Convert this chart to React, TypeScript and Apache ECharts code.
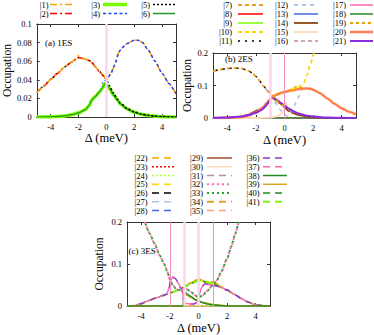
import React, { useEffect, useRef } from 'react';
import * as echarts from 'echarts';

type Pt = [number, number];

// ---------- shared axes ----------
const X_TICKS = [-4, -2, 0, 2, 4];
const Y_TICKS_A = [0, 0.02, 0.04, 0.06, 0.08, 0.1];
const Y_TICKS_BC = [0, 0.1, 0.2];
const X_TITLE = 'Δ (meV)';
const Y_TITLE = 'Occupation';
const PANEL_LABELS = ['(a) 1ES', '(b) 2ES', '(c) 3ES'];

// ---------- panel (a) 1ES ----------
const aS1: Pt[] = [[-5,0.026],[-4.5,0.033],[-4,0.0405],[-3.5,0.047],[-3,0.054],[-2.5,0.059],[-2.2,0.063],[-2,0.066],[-1.9,0.0645],[-1.5,0.062],[-1.2,0.0605],[-1,0.058],[-0.8,0.054],[-0.5,0.049],[-0.2,0.044],[0,0.04],[0.3,0.046],[0.6,0.056],[0.9,0.07],[1.1,0.074],[1.5,0.079],[2,0.0825],[2.3,0.0825],[2.6,0.08],[3,0.072],[3.5,0.06],[4,0.047],[4.5,0.036],[5,0.025]];
const aS2: Pt[] = [[-5,0.026],[-4.5,0.033],[-4,0.0405],[-3.5,0.047],[-3,0.054],[-2.5,0.059],[-2.2,0.062],[-2,0.064],[-1.8,0.0635],[-1.5,0.062],[-1.2,0.0605],[-1,0.058],[-0.8,0.054],[-0.5,0.049],[-0.2,0.044],[0,0.04]];
const aS3: Pt[] = [[-5,0],[-4,0.0002],[-3.5,0.0006],[-3,0.0012],[-2.5,0.0025],[-2,0.0045],[-1.5,0.008],[-1.2,0.013],[-1.1,0.017],[-1,0.019],[-0.8,0.022],[-0.5,0.027],[-0.3,0.031],[-0.1,0.036],[0,0.035],[0.2,0.031],[0.5,0.024],[0.8,0.018],[1,0.014],[1.5,0.0085],[2,0.005],[2.5,0.003],[3,0.0017],[3.5,0.0009],[4,0.0004],[5,0.0001]];
const aS4: Pt[] = [[-0.3,0.036],[0,0.04],[0.3,0.046],[0.6,0.056],[0.9,0.07],[1.1,0.074],[1.5,0.079],[2,0.0825],[2.3,0.0825],[2.6,0.08],[3,0.072],[3.5,0.06],[4,0.047],[4.5,0.036],[5,0.025]];
const aS5: Pt[] = [[-5,0.026],[-4.5,0.033],[-4,0.0405],[-3.5,0.047],[-3,0.054],[-2.5,0.059],[-2.2,0.062],[-2,0.064],[-1.8,0.0635],[-1.5,0.062],[-1.2,0.0605],[-1,0.058],[-0.8,0.054],[-0.5,0.049],[-0.2,0.044],[0,0.04],[0.2,0.034],[0.5,0.026],[0.8,0.019],[1,0.015],[1.5,0.009],[2,0.0055],[2.5,0.003],[3,0.0018],[3.5,0.001],[4,0.0005],[5,0.0001]];
const aS6: Pt[] = [[-5,0],[-4,0.0002],[-3.5,0.0006],[-3,0.0012],[-2.5,0.0025],[-2,0.0045],[-1.5,0.008],[-1.2,0.013],[-1.1,0.017],[-1,0.019],[-0.8,0.022],[-0.5,0.027],[-0.3,0.031],[-0.1,0.036],[0,0.035],[0.2,0.031],[0.5,0.024],[0.8,0.018],[1,0.014],[1.5,0.0085],[2,0.005],[2.5,0.003],[3,0.0017],[3.5,0.0009],[4,0.0004],[5,0.0001]];
const aVLines = [0];

// ---------- panel (b) 2ES ----------
const bZero: Pt[] = [[-5,0],[5,0]];
const bS7: Pt[] = [[-5,0.144],[-4.5,0.149],[-4,0.152],[-3.5,0.154],[-3,0.152],[-2.5,0.145],[-2.2,0.136],[-2,0.128],[-1.8,0.118],[-1.5,0.1],[-1.2,0.085],[-1,0.077],[-0.8,0.066],[-0.6,0.056],[-0.4,0.047],[-0.2,0.041],[0,0.036]];
const bS10: Pt[] = [[0.5,0.088],[0.8,0.094],[1.1,0.098],[1.35,0.108],[1.58,0.133],[1.8,0.165],[2.05,0.2]];
const bS11: Pt[] = [[-5,0.144],[-4.5,0.149],[-4,0.152],[-3.5,0.154],[-3,0.152],[-2.5,0.145],[-2.2,0.136],[-2,0.128],[-1.8,0.118],[-1.5,0.1],[-1.2,0.085],[-1,0.077],[-0.8,0.066]];
const bS12: Pt[] = [[-1.3,0.09],[-1.1,0.078],[-0.9,0.066],[-0.6,0.045],[-0.3,0.025],[0,0.011],[0.2,0.006],[0.4,0.015],[0.6,0.03],[0.8,0.048],[1,0.066],[1.2,0.085]];
const bS14: Pt[] = [[-5,0],[-4,0.001],[-3,0.004],[-2.5,0.01],[-2.2,0.017],[-2,0.022],[-1.8,0.025],[-1.6,0.027],[-1.4,0.033],[-1.2,0.043],[-1,0.055],[-0.85,0.062],[-0.7,0.058],[-0.5,0.05],[-0.3,0.045],[-0.1,0.038],[0,0.032],[0.3,0.022],[0.6,0.015],[1,0.009],[1.5,0.005],[2,0.002],[3,0.0005],[5,0]];
const bS15: Pt[] = [[-5,0],[-2,0],[-1,0.001],[-0.6,0.004],[-0.3,0.01],[-0.1,0.018],[0,0.026],[0.1,0.04],[0.15,0.05]];
const bS19: Pt[] = [[-0.5,0.07],[-0.2,0.078],[0,0.08],[0.3,0.085],[0.6,0.092],[0.9,0.097],[1.1,0.094],[1.3,0.091]];
const bS20: Pt[] = [[-5,0],[-4,0.0005],[-3,0.003],[-2.5,0.008],[-2,0.017],[-1.5,0.033],[-1.2,0.048],[-1,0.058],[-0.8,0.066],[-0.5,0.073],[-0.2,0.078],[0,0.08],[0.5,0.085],[1,0.089],[1.5,0.091],[1.8,0.09],[2,0.087],[2.5,0.076],[3,0.06],[3.5,0.044],[4,0.03],[4.5,0.019],[5,0.011]];
const bS21: Pt[] = [[-5,0.0005],[-4,0.0015],[-3,0.005],[-2.5,0.009],[-2,0.016],[-1.6,0.025],[-1.3,0.038],[-1.1,0.05],[-0.95,0.06],[-0.85,0.065],[-0.7,0.061],[-0.5,0.055],[-0.3,0.048],[0,0.038],[0.3,0.029],[0.6,0.021],[1,0.014],[1.5,0.008],[2,0.0045],[2.5,0.0025],[3,0.0013],[4,0.0004],[5,0.0001]];
const bVLines = [-1, 0];

// ---------- panel (c) 3ES ----------
const cZero: Pt[] = [[-5,0],[5,0]];
const cBroad: Pt[] = [[-5,0],[-4.5,0.001],[-4,0.006],[-3.5,0.013],[-3,0.019],[-2.5,0.025],[-2,0.031],[-1.5,0.037],[-1,0.045],[-0.5,0.054],[0,0.061],[0.5,0.058],[1,0.053],[1.5,0.046],[2,0.038],[2.5,0.028],[3,0.018],[3.5,0.009],[4,0.003],[4.5,0.001],[5,0.0002]];
const cBumpy: Pt[] = [[-1.2,0.042],[-1,0.046],[-0.5,0.056],[-0.2,0.061],[0,0.064],[0.2,0.062],[0.5,0.056],[0.8,0.055],[1,0.058],[1.2,0.055],[1.5,0.047],[1.7,0.044]];
const cPeaks: Pt[] = [[-5,0],[-4.5,0.001],[-4,0.006],[-3.5,0.013],[-3,0.019],[-2.5,0.025],[-2.2,0.029],[-2.05,0.045],[-1.95,0.062],[-1.8,0.069],[-1.6,0.065],[-1.4,0.054],[-1.2,0.041],[-1.1,0.03],[-1.04,0.012],[-1,0.007],[-0.6,0.005],[-0.3,0.005],[-0.1,0.009],[0,0.02],[0.1,0.034],[0.25,0.046],[0.45,0.053],[0.7,0.051],[1,0.049],[1.5,0.046],[2,0.038],[2.5,0.028],[3,0.018],[3.5,0.009],[4,0.003],[4.5,0.001],[5,0.0002]];
const cParab: Pt[] = [[-3.75,0.2],[-3.4,0.172],[-3.1,0.15],[-2.7,0.12],[-2.4,0.1],[-2.2,0.084],[-2,0.064],[-1.8,0.05],[-1.6,0.042],[-1.4,0.038],[-1.2,0.04],[-1,0.042],[-0.8,0.04],[-0.5,0.033],[-0.2,0.025],[0,0.02],[0.3,0.026],[0.6,0.036],[1,0.05],[1.3,0.062],[1.6,0.082],[2,0.113],[2.3,0.142],[2.55,0.17],[2.8,0.2]];
const cDecayG: Pt[] = [[-5,0],[-1.06,0],[-1.02,0.036],[-0.8,0.029],[-0.5,0.022],[-0.2,0.015],[0,0.012],[0.3,0.008],[0.6,0.005],[1,0.003],[1.5,0.0015],[2,0.0005],[3,0],[5,0]];
const cDecayY: Pt[] = [[-5,0],[-1.06,0],[-1.02,0.031],[-0.8,0.026],[-0.5,0.02],[-0.2,0.015],[0,0.012],[0.3,0.009],[0.6,0.007],[1,0.004],[1.5,0.002],[2,0.001],[3,0],[5,0]];
const cVLines = [-2, -1, 0, 1];

// ---------- styles ----------
const DASH_DOT = [7, 3, 2, 3];
const DOT = [2, 2];
const SHORT = [4, 3];
const LONG = [7, 5];
const SERIF = 'Liberation Serif';

type Entry = { label: string; color: string; dash: number[] | 'solid'; w: number; data: Pt[]; off?: number };

const entriesA: Entry[] = [
  { label: '|1)', color: '#ffa500', dash: DASH_DOT, w: 1.5, data: aS1 },
  { label: '|2)', color: '#ff0000', dash: DASH_DOT, w: 1.5, data: aS2, off: 6 },
  { label: '|3)', color: '#7cfc00', dash: 'solid', w: 3.5, data: aS3 },
  { label: '|4)', color: '#1f3fff', dash: [3, 2.5], w: 1.5, data: aS4, off: 2 },
  { label: '|5)', color: '#000000', dash: DOT, w: 1.5, data: aS5, off: 2 },
  { label: '|6)', color: '#1f9a1f', dash: 'solid', w: 1.2, data: aS6 },
];
const drawA = [2, 5, 4, 1, 0, 3];

const entriesB: Entry[] = [
  { label: '|7)', color: '#f0a020', dash: SHORT, w: 2, data: bS7 },
  { label: '|8)', color: '#ff0000', dash: 'solid', w: 1.5, data: bZero },
  { label: '|9)', color: '#7cfc00', dash: 'solid', w: 1.5, data: bZero },
  { label: '|10)', color: '#ffd700', dash: SHORT, w: 1.8, data: bS10 },
  { label: '|11)', color: '#000000', dash: [2, 5], w: 1.2, data: bS11, off: 4 },
  { label: '|12)', color: '#aec6e8', dash: [4, 4], w: 1.8, data: bS12 },
  { label: '|13)', color: '#4169e1', dash: 'solid', w: 1.5, data: bZero },
  { label: '|14)', color: '#8b4513', dash: 'solid', w: 1.8, data: bS14 },
  { label: '|15)', color: '#ffdab9', dash: 'solid', w: 1.8, data: bS15 },
  { label: '|16)', color: '#bc8f8f', dash: SHORT, w: 1.5, data: bZero },
  { label: '|17)', color: '#ff69b4', dash: 'solid', w: 1.5, data: bZero },
  { label: '|18)', color: '#228b22', dash: 'solid', w: 1.5, data: bZero },
  { label: '|19)', color: '#e8a000', dash: [3, 3], w: 2, data: bS19 },
  { label: '|20)', color: '#ff7f50', dash: 'solid', w: 2.5, data: bS20 },
  { label: '|21)', color: '#8a2be2', dash: 'solid', w: 2, data: bS21 },
];
const drawB = [1, 2, 6, 9, 10, 11, 8, 7, 5, 13, 14, 0, 4, 12, 3];

const entriesC: Entry[] = [
  { label: '|22)', color: '#ffa500', dash: LONG, w: 1.5, data: cBumpy },
  { label: '|23)', color: '#ff0000', dash: DOT, w: 1.5, data: cZero },
  { label: '|24)', color: '#adff2f', dash: DOT, w: 1.5, data: cZero },
  { label: '|25)', color: '#ffd700', dash: LONG, w: 1.5, data: cBumpy, off: 4 },
  { label: '|26)', color: '#000000', dash: LONG, w: 1.5, data: cZero },
  { label: '|27)', color: '#b0c4de', dash: LONG, w: 1.5, data: cZero },
  { label: '|28)', color: '#4169e1', dash: LONG, w: 1.5, data: cZero },
  { label: '|29)', color: '#a0522d', dash: 'solid', w: 1.5, data: cZero },
  { label: '|30)', color: '#ffdab9', dash: 'solid', w: 1.5, data: cZero },
  { label: '|31)', color: '#bc8f8f', dash: LONG, w: 1.5, data: cZero },
  { label: '|32)', color: '#ff69b4', dash: [2, 3], w: 2, data: cParab },
  { label: '|33)', color: '#2e9e2e', dash: [2, 3], w: 2, data: cParab, off: 2.5 },
  { label: '|34)', color: '#daa520', dash: LONG, w: 1.8, data: cBumpy, off: 8 },
  { label: '|35)', color: '#ffa07a', dash: LONG, w: 1.5, data: cZero },
  { label: '|36)', color: '#9932cc', dash: LONG, w: 1.5, data: cPeaks },
  { label: '|37)', color: '#ff69b4', dash: LONG, w: 1.5, data: cPeaks, off: 6 },
  { label: '|38)', color: '#228b22', dash: 'solid', w: 1.5, data: cDecayG },
  { label: '|39)', color: '#daa520', dash: 'solid', w: 1.5, data: cDecayY },
  { label: '|40)', color: '#228b22', dash: LONG, w: 1.5, data: cBroad, off: 3 },
  { label: '|41)', color: '#7cfc00', dash: LONG, w: 1.8, data: cBroad },
];
const drawC = [1, 4, 5, 6, 7, 8, 9, 13, 2, 0, 3, 12, 18, 19, 14, 15, 17, 16, 10, 11];

// ---------- layout ----------
const GRIDS = [
  { left: 33, top: 24, width: 143, height: 93 },
  { left: 213, top: 53, width: 143, height: 65 },
  { left: 127, top: 222, width: 143, height: 86 },
];
const Y_MAX = [0.1, 0.2, 0.2];
const Y_INT = [0.02, 0.1, 0.1];
const Y_TICKS = [Y_TICKS_A, Y_TICKS_BC, Y_TICKS_BC];
const X_NAME_GAP = [13, 15, 14];
const Y_NAME_GAP = [22, 18, 22];
const LABEL_POS = [
  { x: 45, y: 43 },
  { x: 225, y: 59 },
  { x: 128.5, y: 251 },
];
const LEGENDS = [
  { entries: entriesA, rows: [4.5, 13.5], cols: [{ r: 48.5, x1: 50, x2: 72 }, { r: 100, x1: 103, x2: 127 }, { r: 150, x1: 153, x2: 175 }], perCol: 2 },
  { entries: entriesB, rows: [5, 14, 23, 32, 41], cols: [{ r: 232, x1: 238, x2: 263 }, { r: 288, x1: 294, x2: 318 }, { r: 346, x1: 350, x2: 373 }], perCol: 5 },
  { entries: entriesC, rows: [158, 166.75, 175.5, 184.25, 193, 201.75, 210.5], cols: [{ r: 147.5, x1: 152, x2: 175 }, { r: 203, x1: 207, x2: 232 }, { r: 259.5, x1: 263, x2: 287 }], perCol: 7 },
];
const VLINES = [
  aVLines.map((x) => ({ x, thick: true })),
  bVLines.map((x) => ({ x, thick: x === -1 })),
  cVLines.map((x) => ({ x, thick: x === -1 || x === 0 })),
];

const AXIS_COLOR = '#333';
const tickFont = { fontFamily: SERIF, fontSize: 8.5, color: '#000' };
const xTitleFont = { fontFamily: SERIF, fontSize: 12.5, color: '#000' };
const yTitleFont = { fontFamily: SERIF, fontSize: 11.5, color: '#000' };

function buildOption() {
  const xAxis: any[] = [];
  const yAxis: any[] = [];
  for (let i = 0; i < 3; i++) {
    xAxis.push({
      gridIndex: i, type: 'value', min: -5, max: 5, interval: 1, position: 'bottom',
      axisLine: { onZero: false, lineStyle: { color: AXIS_COLOR, width: 1 } },
      axisTick: { inside: true, length: 3, customValues: X_TICKS, lineStyle: { color: AXIS_COLOR } },
      axisLabel: { customValues: X_TICKS, margin: 5, ...tickFont, formatter: (v: number) => (v % 2 === 0 ? String(v) : '') },
      splitLine: { show: false },
      name: X_TITLE, nameLocation: 'middle', nameGap: X_NAME_GAP[i], nameTextStyle: xTitleFont,
    });
  }
  for (let i = 0; i < 3; i++) {
    xAxis.push({
      gridIndex: i, type: 'value', min: -5, max: 5, interval: 1, position: 'top',
      axisLine: { onZero: false, lineStyle: { color: AXIS_COLOR, width: 1 } },
      axisTick: { inside: true, length: 3, customValues: X_TICKS, lineStyle: { color: AXIS_COLOR } },
      axisLabel: { show: false },
      splitLine: { show: false },
    });
  }
  for (let i = 0; i < 3; i++) {
    yAxis.push({
      gridIndex: i, type: 'value', min: 0, max: Y_MAX[i], interval: Y_INT[i], position: 'left',
      axisLine: { show: true, onZero: false, lineStyle: { color: AXIS_COLOR, width: 1 } },
      axisTick: { show: true, inside: true, length: 3, customValues: Y_TICKS[i], lineStyle: { color: AXIS_COLOR } },
      axisLabel: { margin: 5, ...tickFont },
      splitLine: { show: false },
      name: Y_TITLE, nameLocation: 'middle', nameRotate: 90, nameGap: Y_NAME_GAP[i], nameTextStyle: yTitleFont,
    });
  }
  for (let i = 0; i < 3; i++) {
    yAxis.push({
      gridIndex: i, type: 'value', min: 0, max: Y_MAX[i], interval: Y_INT[i], position: 'right',
      axisLine: { show: true, onZero: false, lineStyle: { color: AXIS_COLOR, width: 1 } },
      axisTick: { show: true, inside: true, length: 3, customValues: Y_TICKS[i], lineStyle: { color: AXIS_COLOR } },
      axisLabel: { show: false },
      splitLine: { show: false },
    });
  }

  const series: any[] = [];
  VLINES.forEach((lines, i) => {
    series.push({
      type: 'line', xAxisIndex: i, yAxisIndex: i, data: [], z: 1, silent: true,
      markLine: {
        silent: true, symbol: ['none', 'none'], label: { show: false }, animation: false,
        data: lines.map((l) => ({
          xAxis: l.x,
          lineStyle: { type: 'solid', color: l.thick ? '#fcd6e8' : '#f48cbd', width: l.thick ? 2.5 : 1 },
        })),
      },
    });
  });
  const all = [
    { entries: entriesA, order: drawA },
    { entries: entriesB, order: drawB },
    { entries: entriesC, order: drawC },
  ];
  all.forEach((p, i) => {
    p.order.forEach((k) => {
      const e = p.entries[k];
      series.push({
        type: 'line', name: e.label, xAxisIndex: i, yAxisIndex: i, data: e.data,
        symbol: 'none', showSymbol: false, smooth: 0.2, smoothMonotone: 'x', silent: true, z: 2,
        lineStyle: { color: e.color, width: e.w, type: e.dash, dashOffset: e.off || 0, cap: 'butt' },
      });
    });
  });

  const graphic: any[] = [];
  LEGENDS.forEach((lg) => {
    lg.entries.forEach((e, idx) => {
      const col = lg.cols[Math.floor(idx / lg.perCol)];
      const y = lg.rows[idx % lg.perCol];
      graphic.push({
        type: 'text', x: col.r, y, silent: true,
        style: { text: e.label, fontFamily: SERIF, fontSize: 8.5, fill: '#000', align: 'right', verticalAlign: 'middle' },
      });
      graphic.push({
        type: 'line', silent: true,
        shape: { x1: col.x1, y1: y, x2: col.x2, y2: y },
        style: { stroke: e.color, lineWidth: e.w > 3 ? 3.5 : Math.max(1.5, e.w), lineDash: e.dash === 'solid' ? null : e.dash },
      });
    });
  });
  PANEL_LABELS.forEach((t, i) => {
    graphic.push({
      type: 'text', x: LABEL_POS[i].x, y: LABEL_POS[i].y, silent: true,
      style: { text: t, fontFamily: SERIF, fontSize: 9, fill: '#000', align: 'left', verticalAlign: 'middle' },
    });
  });

  return {
    animation: false,
    backgroundColor: '#ffffff',
    grid: GRIDS,
    xAxis,
    yAxis,
    series,
    graphic,
  };
}

export default function App() {
  const ref = useRef<HTMLDivElement>(null);
  useEffect(() => {
    document.body.style.margin = '0';
    const chart = echarts.init(ref.current!, null, { renderer: 'svg' });
    chart.setOption(buildOption() as any);
    return () => chart.dispose();
  }, []);
  return <div ref={ref} style={{ width: 374, height: 335 }} />;
}
